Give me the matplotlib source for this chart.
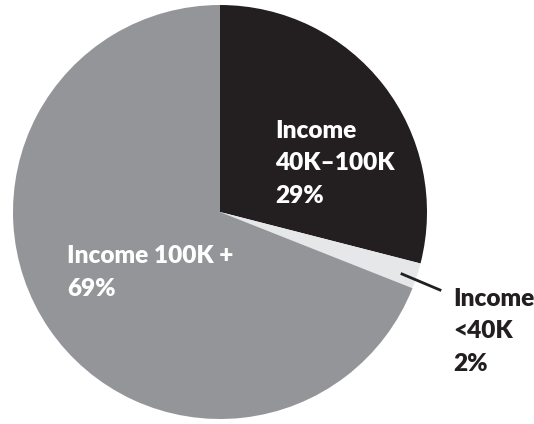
import matplotlib.pyplot as plt

labels = [["Income", "40K–100K", "29%"], ["Income", "<40K", "2%"], ["Income 100K +", "69%"]]
shares = [29, 2, 69]
colors = ["#231f20", "#e6e7e8", "#939598"]

W, H = 534, 424
fig = plt.figure(figsize=(W / 100, H / 100), dpi=100)
ax = fig.add_axes([0, 0, 1, 1])

ax.pie(shares, colors=colors, startangle=90, counterclock=False,
       center=(220, H - 212), radius=207, frame=True,
       wedgeprops=dict(linewidth=0))
ax.set_xlim(0, W)
ax.set_ylim(0, H)
ax.set_aspect("equal")
ax.axis("off")

font = dict(family=["Lato", "DejaVu Sans"], fontweight="heavy", fontsize=17.6,
            ha="left", va="baseline")


def put_label(lines, x, y0, color):
    # y0 = baseline of first line, in pixels from the top
    for i, s in enumerate(lines):
        ax.text(x, H - (y0 + 32.5 * i), s, color=color, **font)


put_label(labels[0], 275, 138, "white")
put_label(labels[2], 67, 263, "white")
put_label(labels[1], 453, 306, "#231f20")
ax.plot([402, 440], [H - 274, H - 290], color="#231f20", lw=2)

fig.savefig("out.png", dpi=100)
